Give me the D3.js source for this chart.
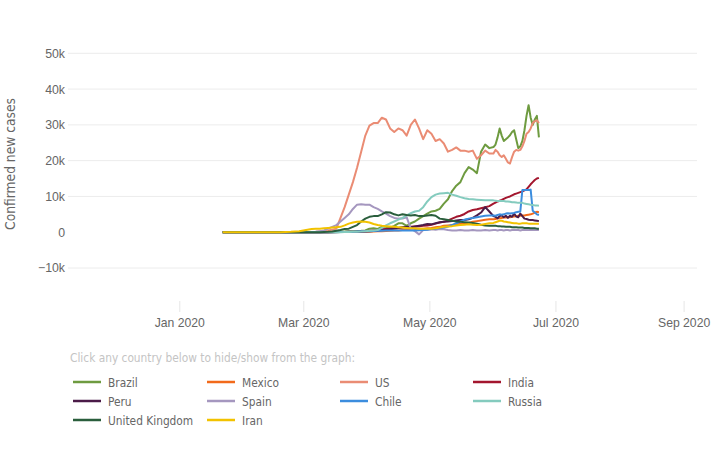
<!DOCTYPE html>
<html>
<head>
<meta charset="utf-8">
<script src="https://cdn.jsdelivr.net/npm/d3@7"></script>
<style>
  body { margin: 0; background: #fff; }
  svg { display: block; font-family: "DejaVu Sans Condensed", "DejaVu Sans", sans-serif; font-stretch: condensed; }
</style>
</head>
<body>
<svg id="chart" width="720" height="450"></svg>
<script>
// ---- Data ----
const dates = [
  "2020-01-22","2020-01-29","2020-02-05","2020-02-12","2020-02-19","2020-02-24","2020-02-28",
  "2020-03-01","2020-03-03","2020-03-05","2020-03-07","2020-03-09","2020-03-11","2020-03-13","2020-03-15",
  "2020-03-17","2020-03-19","2020-03-21","2020-03-23","2020-03-25","2020-03-27","2020-03-29","2020-03-31",
  "2020-04-02","2020-04-04","2020-04-06","2020-04-08","2020-04-10","2020-04-12","2020-04-14","2020-04-16",
  "2020-04-18","2020-04-20","2020-04-22","2020-04-24","2020-04-26","2020-04-28","2020-04-30",
  "2020-05-02","2020-05-04","2020-05-06","2020-05-08","2020-05-10","2020-05-12","2020-05-14","2020-05-16",
  "2020-05-18","2020-05-20","2020-05-22","2020-05-24","2020-05-26","2020-05-28","2020-05-30",
  "2020-06-01","2020-06-02","2020-06-03","2020-06-04","2020-06-05","2020-06-06","2020-06-07","2020-06-08",
  "2020-06-09","2020-06-10","2020-06-11","2020-06-12","2020-06-13","2020-06-14","2020-06-15","2020-06-16",
  "2020-06-17","2020-06-18","2020-06-19","2020-06-20","2020-06-21","2020-06-22","2020-06-23"
];

const brazil = [0,0,0,0,0,0,0,
  0,0,0,0,0,0,0,50,100,150,200,300,300,350,400,500,
  1000,1100,900,1500,1500,1200,1800,2500,2500,1800,2500,3000,3800,4500,5200,
  5800,6000,6500,8000,9200,11500,13000,14000,16500,18200,17500,16500,22500,24500,23500,
  23800,24500,26500,29000,27000,25500,26000,26500,27100,28000,28500,26000,23500,24000,25500,28500,32500,35500,32000,30000,31500,32500,26500];

const mexico = [0,0,0,0,0,0,0,
  0,0,0,0,0,0,0,10,20,30,40,50,60,80,100,120,
  150,200,250,300,350,400,500,500,600,700,800,900,1000,1000,1100,
  1200,1400,1500,1800,1900,2000,2200,2300,2400,2600,2900,3100,3300,3500,3600,
  3600,3700,3800,3900,4000,4100,4100,4200,4200,4300,4400,4500,4600,4600,4700,4700,4800,4900,5000,5200,5500,5700,5600];

const us = [0,0,0,0,0,0,5,
  10,20,50,100,200,300,500,700,1000,4000,7000,10500,14000,18000,22500,27000,
  29800,30500,30500,32000,31500,29000,28000,29000,28500,27000,30000,31500,29000,26000,28500,
  27500,25500,26000,24800,22500,23000,23700,22800,22800,22500,22800,20500,21500,22800,22000,
  22000,23000,22500,21500,21000,21500,20500,19500,19200,21000,22500,23000,22800,23000,24000,25500,27500,28000,29000,30500,31000,31300,30500];

const india = [0,0,0,0,0,0,0,
  0,0,0,0,0,10,20,30,40,50,70,100,100,150,200,300,
  400,500,600,800,900,1000,1100,1200,1300,1400,1500,1600,1700,1800,1900,
  2100,2400,2700,2900,3300,3800,4300,4600,5100,5800,6200,6400,6700,7000,7300,
  8000,8300,8600,8800,9000,9300,9600,9800,10000,10300,10600,10800,11000,11200,11400,11700,12000,12700,13400,14000,14600,15000,15200];

const peru = [0,0,0,0,0,0,0,
  0,0,0,0,0,0,10,20,30,40,50,60,80,100,150,200,
  300,350,400,600,700,800,1000,1200,1400,1500,1400,1600,1800,2000,2300,
  2200,2500,2800,2900,3000,3100,3300,3400,3400,3600,4000,4700,5500,7000,5800,
  4500,4300,3900,4500,4700,4200,4600,4000,4600,4300,5200,4400,4200,5200,4500,3800,3700,3500,3400,3400,3300,3200,3100];

const spain = [0,0,0,0,0,0,0,
  0,20,50,100,300,500,1000,1500,2000,3000,4000,5000,6500,7700,7800,7700,
  7700,7000,6500,5800,5200,4500,4000,3800,3800,4200,1000,300,-600,600,700,
  800,700,900,800,600,500,500,600,500,500,600,500,500,600,500,
  600,600,500,600,600,500,600,600,500,600,700,600,600,500,600,600,700,600,600,600,600,600,600];

const chile = [0,0,0,0,0,0,0,
  0,0,0,0,0,0,0,10,20,30,50,100,150,200,250,300,
  300,350,400,400,450,500,500,450,500,500,500,500,550,600,700,
  900,1000,1200,1300,1600,2000,2500,3000,3500,3800,4000,4200,4400,4600,4700,
  4700,4600,4800,5000,4900,5000,5200,5300,5200,5300,5400,5600,5700,5800,11800,11800,11800,11800,11900,6000,5500,5000,4800];

const russia = [0,0,0,0,0,0,0,
  0,0,0,0,0,0,0,0,10,20,30,50,100,150,200,300,
  400,500,600,1200,1900,2500,3000,3500,4000,4700,5300,5800,6000,7000,8600,
  9800,10500,10800,10900,11000,10500,10200,9800,9500,9300,9200,9100,9000,8900,8900,
  8900,8800,8700,8700,8700,8700,8600,8600,8500,8400,8400,8300,8200,8200,8200,8000,7900,7800,7700,7600,7500,7500,7400];

const uk = [0,0,0,0,0,0,0,
  0,0,0,0,0,50,100,200,400,600,900,1000,1500,2000,3000,3800,
  4300,4500,4500,5000,5600,5500,5000,4700,5000,4800,4700,4800,4500,4500,4700,
  4800,4600,3800,3600,3400,3200,3000,2900,2800,2700,2600,2400,2100,1900,1800,
  1800,1800,1700,1700,1600,1600,1500,1500,1500,1400,1400,1400,1300,1300,1300,1200,1200,1200,1100,1100,1100,1000,1000];

const iran = [0,0,0,0,0,100,300,
  500,700,900,1000,1000,1100,1200,1300,1400,1500,1900,2400,2700,2900,3000,2900,
  2700,2300,2000,1800,1700,1600,1500,1400,1300,1200,1100,1100,1000,1000,1000,
  1000,1100,1300,1500,1600,1700,1900,2000,2100,2200,2100,2000,2100,2300,2500,
  2600,2800,3000,3200,3200,3000,2900,2800,2700,2600,2500,2500,2400,2400,2500,2500,2500,2400,2400,2400,2400,2400,2400];

const countries = ["Brazil","Mexico","US","India","Peru","Spain","Chile","Russia","United Kingdom","Iran"];
const colors = ["#6e9b40","#f26a1b","#ea8c74","#a3162e","#4b1b48","#a597bf","#3c8dde","#84cbbe","#2a5e3c","#f2c200"];
const seriesValues = [brazil, mexico, us, india, peru, spain, chile, russia, uk, iran];

const yTicks = [-10000, 0, 10000, 20000, 30000, 40000, 50000];
const xTickDates = ["2020-01-01","2020-03-01","2020-05-01","2020-07-01","2020-09-01"];
const yTitle = "Confirmed new cases";
const legendNote = "Click any country below to hide/show from the graph:";

// ---- Drawing ----
const svg = d3.select("#chart");
const parse = d3.utcParse("%Y-%m-%d");
const plotLeft = 68, plotRight = 697;

const x = d3.scaleUtc()
  .domain([parse("2020-01-01"), parse("2020-09-01")])
  .range([179.3, 683.6]);
const y = d3.scaleLinear()
  .domain([-10000, 50000])
  .range([268, 53.3]);

// grid
svg.append("g").selectAll("line")
  .data(yTicks.filter(d => d !== 0))
  .join("line")
  .attr("x1", plotLeft).attr("x2", plotRight)
  .attr("y1", d => y(d)).attr("y2", d => y(d))
  .attr("stroke", "#ececec").attr("stroke-width", 1);

// y axis
const fmtY = d => d === 0 ? "0" : (d < 0 ? "\u2212" : "") + Math.abs(d) / 1000 + "k";
const yAxis = d3.axisLeft(y).tickValues(yTicks).tickFormat(fmtY).tickSize(0).tickPadding(0);
const gy = svg.append("g").attr("transform", `translate(${plotLeft - 3},0)`).call(yAxis);
gy.select(".domain").remove();
gy.selectAll("text").attr("fill", "#666").attr("font-size", 12.3).attr("font-family", null);

// x axis
const xAxis = d3.axisBottom(x).tickValues(xTickDates.map(parse))
  .tickFormat(d3.utcFormat("%b %Y")).tickSize(11).tickPadding(6);
const gx = svg.append("g").attr("transform", "translate(0,301)").call(xAxis);
gx.select(".domain").remove();
gx.selectAll(".tick line").attr("stroke", "#e6e6e6");
gx.selectAll("text").attr("fill", "#666").attr("font-size", 12.2).attr("font-family", null);

// y title
svg.append("text")
  .attr("transform", "translate(14.5,164) rotate(-90)")
  .attr("text-anchor", "middle")
  .attr("fill", "#666").attr("font-size", 13.7)
  .text(yTitle);

// lines
const parsedDates = dates.map(parse);
const line = d3.line()
  .x((d, i) => x(parsedDates[i]))
  .y(d => y(d));
svg.append("g").selectAll("path")
  .data(seriesValues)
  .join("path")
  .attr("d", d => line(d))
  .attr("fill", "none")
  .attr("stroke", (d, i) => colors[i])
  .attr("stroke-width", 2)
  .attr("stroke-linejoin", "round");

// legend
svg.append("text")
  .attr("x", 70).attr("y", 362)
  .attr("fill", "#c4c4c4").attr("font-size", 11.8)
  .text(legendNote);

const colX = [73, 207, 340, 473];
const rowY = [382, 401, 420];
const lg = svg.append("g").selectAll("g")
  .data(countries)
  .join("g")
  .attr("transform", (d, i) => `translate(${colX[i % 4]},${rowY[Math.floor(i / 4)]})`);
lg.append("line")
  .attr("x1", 0).attr("x2", 28).attr("y1", 0).attr("y2", 0)
  .attr("stroke", (d, i) => colors[i]).attr("stroke-width", 2.5);
lg.append("text")
  .attr("x", 35).attr("y", 4.5)
  .attr("fill", "#666").attr("font-size", 11.8)
  .text(d => d);
</script>
</body>
</html>
